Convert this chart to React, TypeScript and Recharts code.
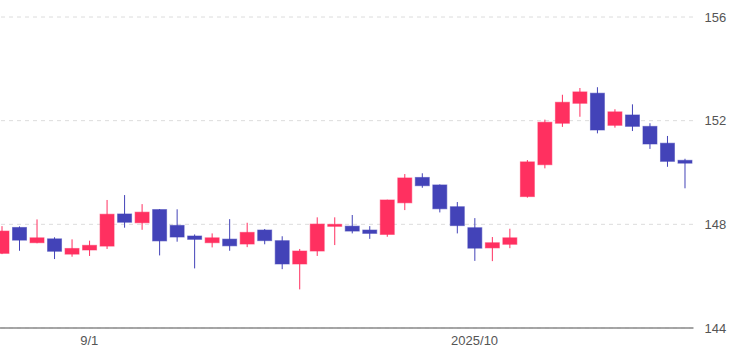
import React from "react";
import { ComposedChart, Bar, XAxis, YAxis, CartesianGrid } from "recharts";

const dates = [
  "2025-08-25", "2025-08-26", "2025-08-27", "2025-08-28", "2025-08-29",
  "2025-09-01", "2025-09-02", "2025-09-03", "2025-09-04", "2025-09-05",
  "2025-09-08", "2025-09-09", "2025-09-10", "2025-09-11", "2025-09-12",
  "2025-09-15", "2025-09-16", "2025-09-17", "2025-09-18", "2025-09-19",
  "2025-09-22", "2025-09-23", "2025-09-24", "2025-09-25", "2025-09-26",
  "2025-09-29", "2025-09-30", "2025-10-01", "2025-10-02", "2025-10-03",
  "2025-10-06", "2025-10-07", "2025-10-08", "2025-10-09", "2025-10-10",
  "2025-10-13", "2025-10-14", "2025-10-15", "2025-10-16", "2025-10-17",
];

const opens = [
  146.88, 147.88, 147.29, 147.44, 146.85, 147.01, 147.16, 148.40, 148.06, 148.57,
  147.96, 147.55, 147.29, 147.43, 147.24, 147.78, 147.37, 146.47, 146.97, 147.96,
  147.93, 147.78, 147.61, 148.83, 149.81, 149.52, 148.68, 147.87, 147.09, 147.23,
  149.07, 150.30, 151.90, 152.67, 153.06, 151.82, 152.22, 151.78, 151.13, 150.47,
];
const highs = [
  147.93, 147.92, 148.19, 147.50, 147.42, 147.37, 148.94, 149.13, 148.78, 148.59,
  148.58, 147.61, 147.65, 148.20, 148.06, 147.82, 147.54, 147.05, 148.27, 148.27,
  148.36, 147.93, 148.95, 149.94, 149.97, 149.54, 148.86, 148.24, 147.51, 147.83,
  150.48, 152.04, 153.00, 153.26, 153.29, 152.44, 152.63, 151.90, 151.41, 150.53,
];
const lows = [
  146.85, 146.98, 147.27, 146.66, 146.75, 146.78, 147.05, 147.87, 147.79, 146.80,
  147.33, 146.30, 147.11, 146.98, 147.12, 147.23, 146.27, 145.49, 146.78, 147.20,
  147.65, 147.44, 147.52, 148.55, 149.41, 148.46, 147.65, 146.59, 146.58, 147.08,
  149.03, 150.16, 151.76, 152.15, 151.51, 151.73, 151.60, 150.91, 150.22, 149.39,
];
const closes = [
  147.74, 147.39, 147.48, 146.96, 147.07, 147.19, 148.39, 148.08, 148.47, 147.36,
  147.51, 147.42, 147.48, 147.17, 147.69, 147.37, 146.47, 146.97, 148.01, 148.00,
  147.74, 147.65, 148.94, 149.79, 149.49, 148.60, 147.95, 147.08, 147.29, 147.48,
  150.41, 151.94, 152.71, 153.11, 151.64, 152.34, 151.78, 151.10, 150.43, 150.36,
];

const tickDates = ["2025-09-01", "2025-10-01"];
const tickLabels = ["9/1", "2025/10"];
const yTicks = [144, 148, 152, 156];

const UP = "#ff3060";
const DOWN = "#4343b8";

const data = dates.map((d, i) => ({
  date: d,
  open: opens[i],
  high: highs[i],
  low: lows[i],
  close: closes[i],
  range: [lows[i], highs[i]],
}));

const Candle = (props: any) => {
  const { x, y, width, height, payload } = props;
  const { open, close, high, low } = payload;
  const color = close >= open ? UP : DOWN;
  const span = high - low;
  const k = span > 0 ? height / span : 0;
  const top = y + (high - Math.max(open, close)) * k;
  const bot = y + (high - Math.min(open, close)) * k;
  const cx = x + width / 2;
  const bh = Math.max(bot - top, 2);
  return (
    <g>
      <line x1={cx} x2={cx} y1={y} y2={y + height} stroke={color} strokeWidth={1} />
      <rect
        x={x}
        y={top}
        width={width}
        height={bh}
        fill={color}
        stroke={color}
        strokeOpacity={0.55}
        strokeWidth={1}
      />
    </g>
  );
};

export default function App() {
  return (
    <div style={{ position: "absolute", left: -7, top: 0 }}>
      <ComposedChart
        width={741}
        height={356}
        data={data}
        margin={{ top: 17, right: 0, bottom: 0, left: 0 }}
      >
        <CartesianGrid
          horizontal={true}
          vertical={false}
          stroke="#dcdcdc"
          strokeDasharray="4 4"
        />
        <XAxis
          dataKey="date"
          ticks={tickDates}
          interval={0}
          tickFormatter={(v: string) => tickLabels[tickDates.indexOf(v)] ?? ""}
          tickLine={false}
          axisLine={{ stroke: "#8a8a8a", strokeWidth: 1.5 }}
          height={28}
          tick={{ fill: "#555", fontSize: 13, fontFamily: "Liberation Sans, Arial, sans-serif" }}
        />
        <YAxis
          orientation="right"
          domain={[144, 156]}
          ticks={yTicks}
          allowDataOverflow
          width={40.5}
          axisLine={false}
          tickLine={false}
          tickMargin={5}
          tick={{ fill: "#555", fontSize: 13, fontFamily: "Liberation Sans, Arial, sans-serif" }}
        />
        <Bar dataKey="range" barSize={14} shape={<Candle />} isAnimationActive={false} />
      </ComposedChart>
    </div>
  );
}
